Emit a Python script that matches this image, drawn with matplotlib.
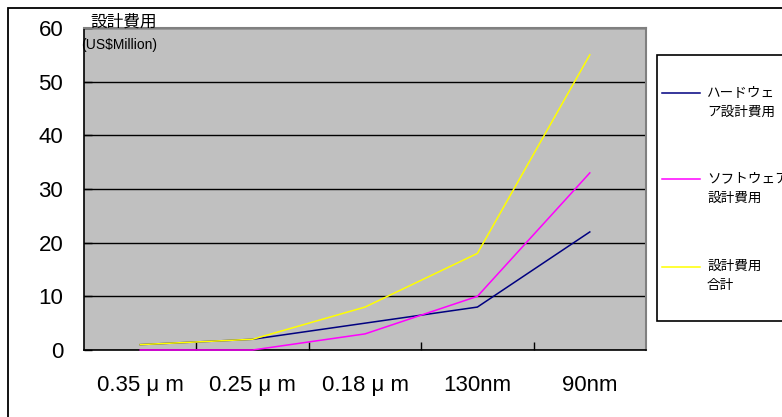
import matplotlib
matplotlib.use('Agg')
import matplotlib.pyplot as plt
from matplotlib.patches import Rectangle
from matplotlib.lines import Line2D

categories = ['0.35 μ m', '0.25 μ m', '0.18 μ m', '130nm', '90nm']
hardware = [1, 2, 5, 8, 22]
software = [0, 0, 3, 10, 33]
total = [1, 2, 8, 18, 55]
series_names = ['ハードウェ\nア設計費用', 'ソフトウェア\n設計費用', '設計費用\n合計']
y_ticks = [0, 10, 20, 30, 40, 50, 60]
y_title = '設計費用'
y_unit = '(US$Million)'

plt.rcParams['font.family'] = ['Liberation Sans', 'Noto Sans CJK JP', 'DejaVu Sans']

W, H = 782, 417
def fx(px): return px / W
def fy(py): return 1 - py / H

fig = plt.figure(figsize=(W / 100, H / 100), dpi=100)

# outer chart border (left/top visible, right/bottom clipped)
fig.add_artist(Rectangle((fx(8), -0.2), 2, fy(8) + 0.2, transform=fig.transFigure,
                         fill=False, edgecolor='black', lw=1.3))

ax = fig.add_axes([fx(84), fy(350), (646 - 84) / W, (350 - 28) / H])
ax.set_facecolor('#c0c0c0')
xs = list(range(len(categories)))
colors = ['#000080', '#ff00ff', '#ffff00']
for vals, c in zip([hardware, software, total], colors):
    ax.plot(xs, vals, color=c, lw=1.1, zorder=3, clip_on=False)

ax.set_xlim(-0.5, len(categories) - 0.5)
ax.set_ylim(0, 60)
ax.set_yticks(y_ticks)
ax.yaxis.grid(True, color='black', lw=1)
ax.set_axisbelow(True)
ax.set_xticks(xs, categories)
ax.set_xticks([i + 0.5 for i in xs[:-1]], minor=True)
ax.tick_params(axis='x', which='major', length=0, pad=18, labelsize=16)
ax.tick_params(axis='x', which='minor', direction='in', length=6, width=1)
ax.tick_params(axis='y', direction='in', length=6, width=1, pad=15, labelsize=16)
for s in ['top', 'right']:
    ax.spines[s].set_color('#808080')
    ax.spines[s].set_linewidth(1.5)
for s in ['left', 'bottom']:
    ax.spines[s].set_color('black')
    ax.spines[s].set_linewidth(1.2)

fig.text(fx(90), fy(22), y_title, fontsize=12, va='center', ha='left',
         family=['Noto Sans CJK JP', 'DejaVu Sans'])
fig.text(fx(81), fy(45), y_unit, fontsize=10, va='center', ha='left')

# legend
fig.add_artist(Rectangle((fx(656.5), fy(321)), 1, (321 - 55) / H, transform=fig.transFigure,
                         facecolor='white', edgecolor='black', lw=1.2))
line_y = [93, 179, 267]
for name, c, ly in zip(series_names, colors, line_y):
    fig.add_artist(Line2D([fx(662), fx(700)], [fy(ly), fy(ly)], color=c, lw=1.1,
                          transform=fig.transFigure))
    fig.text(fx(707), fy(ly - 8), name, fontsize=9.8, va='top', ha='left',
             linespacing=1.5, family=['Noto Sans CJK JP', 'DejaVu Sans'])

fig.savefig('out.png', dpi=100)
